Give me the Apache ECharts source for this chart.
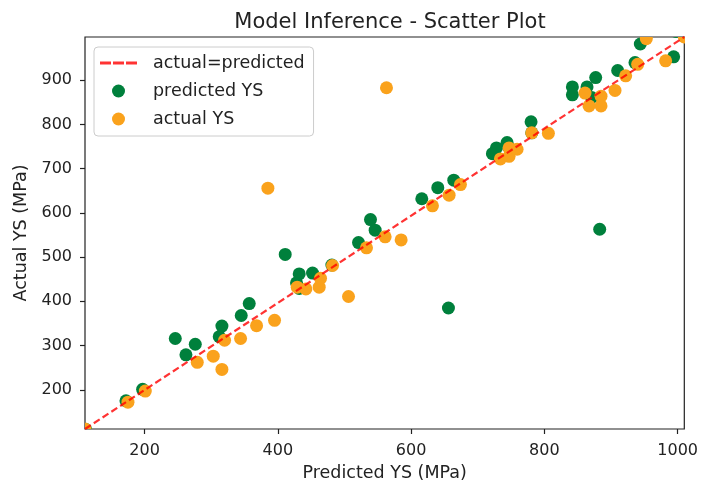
<!DOCTYPE html>
<html>
<head>
<meta charset="utf-8">
<script src="https://cdn.jsdelivr.net/npm/echarts@6/dist/echarts.min.js"></script>
<style>
  html, body { margin: 0; padding: 0; background: #fff; }
  #chart { width: 701px; height: 489px; }
</style>
</head>
<body>
<div id="chart"></div>
<script>
// Yield strength per sample (MPa): model prediction and measured value
const predictedYS = [110.5, 175, 201, 279, 303, 316, 320, 344, 368, 395,
                     429, 442, 462, 464, 482, 506, 533, 561, 585, 563,
                     385, 632, 657, 674, 734, 747, 747, 759, 781, 806,
                     861, 867, 885, 885, 906, 922, 940, 982, 953, 1010];
const actualYS    = [111.3, 172, 197, 262, 276, 246, 312, 316, 345, 357,
                     432, 428, 432, 452, 481, 411, 521, 546, 539, 883,
                     656, 616, 640, 664, 722, 728, 747, 744, 781, 780,
                     871, 842, 864, 842, 877, 910, 936, 944, 994, 997.8];

// Axis extents (data extents) and tick labels
const xRange = [110.5, 1010];
const yRange = [111.3, 997.8];
const xTicks = [200, 400, 600, 800, 1000];
const yTicks = [200, 300, 400, 500, 600, 700, 800, 900];

const FONT = 'DejaVu Sans';
const INK = '#222';
const DOT_RADIUS = 6.5;

const greenPts = predictedYS.map((p, i) => [actualYS[i], p]);
const orangePts = predictedYS.map((p, i) => [p, actualYS[i]]);
const diagonal = [[xRange[0], yRange[0]], [xRange[1], yRange[1]]];

// Filled dots, clipped to the plotting area like matplotlib markers
function renderDot(params, api) {
  const pt = api.coord([api.value(0), api.value(1)]);
  return {
    type: 'circle',
    shape: { cx: pt[0], cy: pt[1], r: DOT_RADIUS },
    style: { fill: api.visual('color') }
  };
}

const chart = echarts.init(document.getElementById('chart'), null, { renderer: 'canvas' });

chart.setOption({
  backgroundColor: '#ffffff',
  animation: false,
  textStyle: { fontFamily: FONT },
  title: {
    text: 'Model Inference - Scatter Plot',
    left: 385,
    top: 7,
    textAlign: 'center',
    textStyle: { fontFamily: FONT, fontSize: 21, fontWeight: 'normal', color: INK }
  },
  legend: {
    orient: 'vertical',
    left: 94,
    top: 47,
    padding: [7, 9, 8, 6],
    itemWidth: 37,
    itemHeight: 13,
    itemGap: 10,
    backgroundColor: 'rgba(255,255,255,0.8)',
    borderColor: '#cccccc',
    borderWidth: 1,
    borderRadius: 4,
    textStyle: { fontFamily: FONT, fontSize: 17.5, lineHeight: 17, color: INK, padding: [0, 0, 0, 11] },
    data: [
      { name: 'actual=predicted',
        icon: 'path://M0,0h11v3h-11z M13,0h11v3h-11z M26,0h11v3h-11z',
        itemStyle: { color: 'rgba(255,0,0,0.8)' } },
      { name: 'predicted YS', icon: 'circle', itemStyle: { color: '#00803c' } },
      { name: 'actual YS', icon: 'circle', itemStyle: { color: '#faa21c' } }
    ]
  },
  grid: {
    left: 85, right: 13, top: 37, bottom: 60,
    show: true, borderColor: INK, borderWidth: 1.2, backgroundColor: 'transparent'
  },
  xAxis: {
    type: 'value',
    min: xRange[0], max: xRange[1],
    name: 'Predicted YS (MPa)',
    nameLocation: 'middle',
    nameGap: 35,
    nameTextStyle: { fontFamily: FONT, fontSize: 17.5, color: INK },
    axisLine: { show: false },
    splitLine: { show: false },
    axisTick: { show: true, length: 5, lineStyle: { color: INK, width: 1.2 }, customValues: xTicks },
    axisLabel: { fontFamily: FONT, fontSize: 16, color: INK, margin: 14, customValues: xTicks,
                 formatter: v => String(v) }
  },
  yAxis: {
    type: 'value',
    min: yRange[0], max: yRange[1],
    name: 'Actual YS (MPa)',
    nameLocation: 'middle',
    nameGap: 55,
    nameTextStyle: { fontFamily: FONT, fontSize: 17.5, color: INK },
    axisLine: { show: false },
    splitLine: { show: false },
    axisTick: { show: true, length: 5, lineStyle: { color: INK, width: 1.2 }, customValues: yTicks },
    axisLabel: { fontFamily: FONT, fontSize: 16, color: INK, margin: 13, customValues: yTicks,
                 formatter: v => String(v) }
  },
  series: [
    {
      name: 'predicted YS',
      type: 'custom',
      data: greenPts,
      encode: { x: 0, y: 1 },
      renderItem: renderDot,
      clip: true,
      itemStyle: { color: '#00803c' },
      z: 2
    },
    {
      name: 'actual YS',
      type: 'custom',
      data: orangePts,
      encode: { x: 0, y: 1 },
      renderItem: renderDot,
      clip: true,
      itemStyle: { color: '#faa21c' },
      z: 3
    },
    {
      name: 'actual=predicted',
      type: 'line',
      data: diagonal,
      showSymbol: false,
      symbol: 'none',
      clip: true,
      lineStyle: { color: 'rgba(255,0,0,0.8)', width: 2.2, type: [7, 3.5] },
      itemStyle: { color: 'rgba(255,0,0,0.8)' },
      z: 4
    }
  ]
});
</script>
</body>
</html>
